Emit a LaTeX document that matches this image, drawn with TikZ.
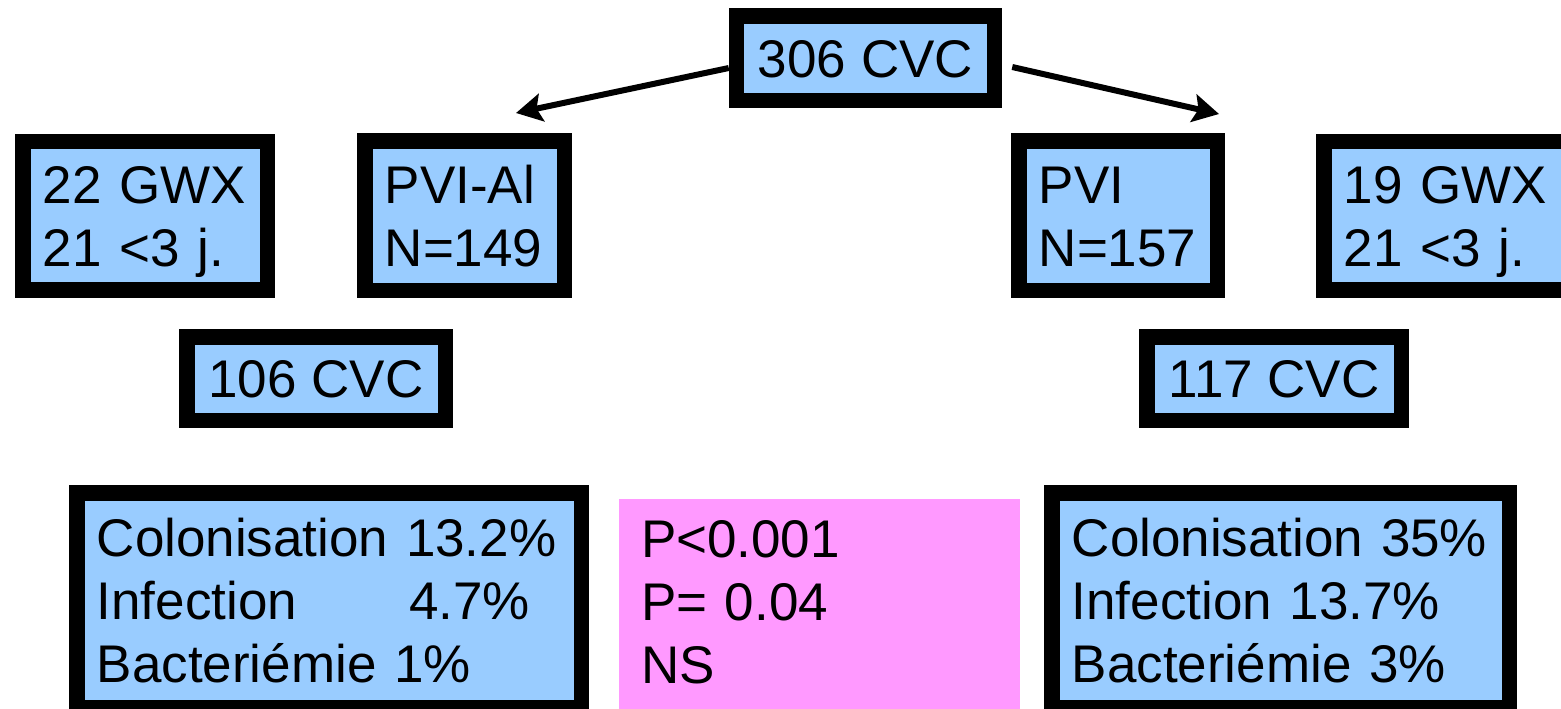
\documentclass[tikz,border=0pt]{standalone}
\usepackage{fontspec}
\setmainfont{Liberation Sans}
\usetikzlibrary{arrows.meta,positioning}
\definecolor{boxblue}{HTML}{99CCFF}
\definecolor{boxpink}{HTML}{FF99FF}

\begin{document}
\begin{tikzpicture}[x=0.5pt, y=-0.5pt]
    \tikzstyle{box}=[rectangle, draw=black, line width=7.75pt, fill=boxblue, inner ysep=0pt, text height=19pt, text depth=0pt, font=\fontsize{26.5pt}{31.5pt}\selectfont]
    \tikzstyle{listbox}=[box, align=left, inner xsep=10pt, text depth=31.5pt]
    \tikzstyle{longbox}=[listbox, text depth=63pt]
    \tikzstyle{pbox}=[longbox, draw=none, fill=boxpink, inner xsep=11pt, text depth=67pt]
    \tikzstyle{connect}=[-{Stealth[length=13pt, width=14pt, inset=2.5pt]}, line width=3pt]

      \useasboundingbox (0,0) rectangle (1561,708);
      \clip (0,0) rectangle (1561,708);

      \node[box, minimum width=129pt, minimum height=42.25pt] (top) at (865.5,58) {306 CVC};
      \node[listbox, minimum width=99.75pt, minimum height=74.75pt, text width=79.75pt] (pviAl) at (464.5,215.5) {PVI-Al\\N=149};
      \node[listbox, minimum width=122.25pt, minimum height=74.25pt, text width=102.25pt] (gwxL) [left=41pt of pviAl] {22 GWX\\21 <3 j.};
      \node[listbox, minimum width=99.25pt, minimum height=74.75pt, text width=79.25pt] (pvi) at (1118,215.5) {PVI\\N=157};
      \node[listbox, minimum width=124pt, minimum height=74.25pt, text width=104pt] (gwxR) [right=45.5pt of pvi] {19 GWX\\21 <3 j.};
      \node[box, minimum width=129.25pt, minimum height=41.75pt] (cvcL) at (316,378.5) {106 CVC};
      \node[box, minimum width=127.25pt, minimum height=41.75pt] (cvcR) at (1274,378.5) {117 CVC};
      \node[longbox, minimum width=252.25pt, minimum height=107.25pt, text width=232.25pt] (resL) at (329,600)
        {Colonisation 13.2\%\\Infection\hspace{56pt}4.7\%\\Bacteriémie 1\%};
      \node[pbox, minimum width=200.5pt, minimum height=106.5pt, text width=178.5pt] (pval) at (819.5,605.5)
        {P<0.001\\P= 0.04\\NS};
      \node[longbox, minimum width=228.75pt, minimum height=107.25pt, text width=208.75pt] (resR) at (1280.5,600)
        {Colonisation 35\%\\Infection 13.7\%\\Bacteriémie 3\%};

      \coordinate (tipL) at (516,113);
      \coordinate (tipR) at (1219,114);
      \path
        ([yshift=-5pt]top.west) edge [connect] (tipL)
        ([xshift=5pt,yshift=-4.5pt]top.east) edge [connect] (tipR);
    \end{tikzpicture}
\end{document}
